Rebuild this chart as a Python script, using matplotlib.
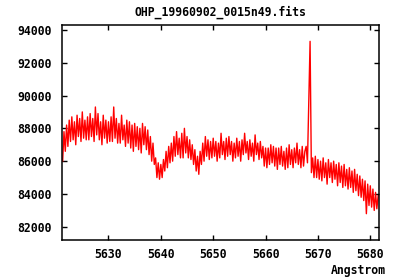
import matplotlib
matplotlib.use("Agg")
import matplotlib.pyplot as plt
import numpy as np

# wavelength grid as in the FITS header (CRVAL1 / CDELT1)
crval1 = 5621.25
cdelt1 = 0.25

# flux, 4 samples per Angstrom
flux = [
    86000, 87800, 86600,
    88200, 86900, 88500, 87200,
    88700, 87300, 88400, 87000,
    88800, 87500, 88600, 87200,
    89000, 87400, 88500, 87300,
    88700, 87300, 88900, 87500,
    88600, 87200, 89300, 87600,
    88900, 87300, 88400, 87000,
    88800, 87400, 88500, 87100,
    88400, 87200, 88700, 87200,
    89300, 87400, 88600, 87100,
    88300, 87100, 88800, 87300,
    88200, 86900, 88500, 87100,
    88400, 86800, 88200, 86600,
    88300, 86900, 88100, 86700,
    88000, 86500, 88300, 87000,
    88100, 86700, 87900, 86400,
    87500, 86000, 87100, 85800,
    86200, 85000, 85900, 84900,
    85800, 85000, 86100, 85400,
    86600, 85600, 86900, 85900,
    87100, 86000, 87500, 86300,
    87800, 86400, 87400, 86200,
    87700, 86200, 88000, 86500,
    87500, 86200, 87300, 86100,
    87000, 85800, 86700, 85400,
    86300, 85200, 86600, 85800,
    87100, 86000, 87500, 86300,
    87300, 86100, 87200, 86200,
    87400, 86300, 87200, 86000,
    87100, 86200, 87700, 86400,
    87200, 86100, 87400, 86300,
    87500, 86400, 87200, 86000,
    87100, 86200, 87400, 86300,
    87200, 86000, 87300, 86400,
    87700, 86500, 87200, 86100,
    87300, 86300, 87100, 86000,
    87600, 86400, 87100, 86100,
    87200, 86200, 86900, 85700,
    86800, 85600, 86800, 85800,
    87000, 85900, 86900, 85700,
    86800, 85500, 86800, 85800,
    86900, 85700, 86600, 85500,
    86800, 85600, 87000, 85800,
    86700, 85600, 86800, 85900,
    87100, 85800, 86700, 85600,
    86900, 85700, 86600, 86900,
    85900, 89500, 93300, 85300,
    86200, 85000, 86300, 85000,
    86100, 84900, 86000, 84800,
    86200, 85000, 85900, 84600,
    86100, 85000, 85900, 84700,
    86000, 84900, 85800, 84500,
    85900, 84700, 85700, 84400,
    85800, 84500, 85500, 84300,
    85600, 84400, 85400, 84100,
    85500, 84200, 85200, 83900,
    85100, 83800, 84900, 83600,
    84800, 82800, 84600, 83300,
    84500, 83200, 84300, 83000,
    84100, 83100, 83900,
]
wave = crval1 + cdelt1 * np.arange(len(flux))

xticks = [5630, 5640, 5650, 5660, 5670, 5680]
yticks = [82000, 84000, 86000, 88000, 90000, 92000, 94000]

font = {"family": "DejaVu Sans Mono", "weight": "bold", "size": 8.3}

fig = plt.figure(figsize=(4, 2.8), dpi=100)
ax = fig.add_axes([0.156, 0.143, 0.792, 0.768])

ax.plot(wave, flux, color="red", linewidth=1.0)

ax.set_xlim(5621.2, 5681.7)
ax.set_ylim(81200, 94300)
ax.set_xticks(xticks)
ax.set_yticks(yticks)
ax.set_xticklabels([str(t) for t in xticks], fontdict=font)
ax.set_yticklabels([str(t) for t in yticks], fontdict=font)
ax.tick_params(direction="in", length=3.5, width=1, top=True, right=True)
ax.tick_params(axis="x", pad=6)
ax.tick_params(axis="y", pad=8)
for s in ax.spines.values():
    s.set_linewidth(1.1)

ax.set_title("OHP_19960902_0015n49.fits", fontdict=font, pad=7)
fig.text(0.965, 0.022, "Angstrom", ha="right", va="baseline", **font)

fig.savefig("out.png", dpi=100)
